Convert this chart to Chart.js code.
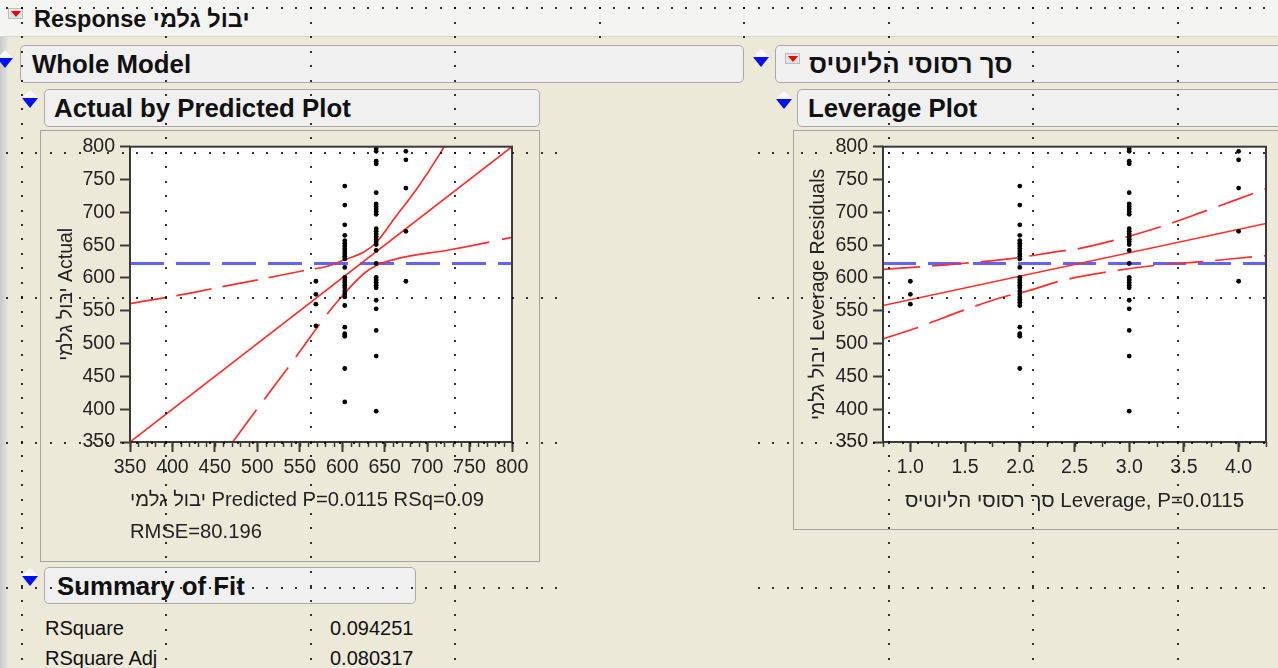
<!DOCTYPE html>
<html>
<head>
<meta charset="utf-8">
<script src="https://cdn.jsdelivr.net/npm/chart.js@4.4.0/dist/chart.umd.min.js"></script>
<style>
body{margin:0;width:1278px;height:668px;overflow:hidden;background:#ECE9D8;font-family:"Liberation Sans",Arial,sans-serif;position:relative;color:#111}
.abs{position:absolute}
.topbar{left:0;top:0;width:1278px;height:36px;background:#F4F4F2;border-bottom:1px solid #D6D6D0}
.side{left:0;top:37px;width:8px;height:631px;background:linear-gradient(to right,#C8C8C8,#E4E4E4)}
.hdr{height:38px;background:#F0F0F0;border:1px solid #A9A9A9;border-radius:5px;box-sizing:border-box;font-weight:bold;font-size:25.8px;line-height:36px;white-space:nowrap;overflow:hidden}
.panel{border:1px solid #A3A3A3;box-sizing:border-box}
.disc{width:0;height:0;border-left:8px solid transparent;border-right:8px solid transparent;border-top:10px solid #0010F0}
.disc:before{content:'';position:absolute;left:-8px;top:-18px;border-left:8px solid transparent;border-right:8px solid transparent;border-bottom:8px solid #F8F8F8}
.redbox{width:15px;height:11px;background:#E2E2E2;border:1px solid #BDBDBD;box-sizing:border-box}
.redbox:after{content:'';position:absolute;left:2px;top:2px;border-left:5px solid transparent;border-right:5px solid transparent;border-top:6px solid #F00000}
.txt{font-size:20px;white-space:nowrap}
canvas{position:absolute}
</style>
</head>
<body>

<div class="abs topbar"></div>
<div class="abs redbox" style="left:8px;top:8px"></div>
<div class="abs" style="left:34px;top:4px;font-weight:bold;font-size:23.5px;line-height:30px;white-space:nowrap">Response יבול גלמי</div>
<div class="abs side"></div>

<div class="abs hdr" style="left:20px;top:45px;width:724px;padding-left:11px">Whole Model</div>
<div class="abs disc" style="left:-3px;top:58px"></div>
<div class="abs hdr" style="left:44px;top:89px;width:496px;padding-left:9px">Actual by Predicted Plot</div>
<div class="abs disc" style="left:22px;top:98px"></div>

<div class="abs hdr" style="left:775px;top:45px;width:530px;padding-left:33px">סך רסוסי הליוטיס</div>
<div class="abs disc" style="left:753px;top:57px"></div>
<div class="abs redbox" style="left:785px;top:53px"></div>
<div class="abs hdr" style="left:797px;top:89px;width:520px;padding-left:10px">Leverage Plot</div>
<div class="abs disc" style="left:776px;top:99px"></div>

<div class="abs panel" style="left:40px;top:130px;width:500px;height:432px"></div>
<div class="abs panel" style="left:793px;top:130px;width:500px;height:400px"></div>

<canvas id="apChart" width="500" height="432" style="left:40px;top:130px"></canvas>
<canvas id="levChart" width="485" height="400" style="left:793px;top:130px"></canvas>

<div class="abs hdr" style="left:44px;top:567px;width:372px;height:37px;padding-left:12px">Summary of Fit</div>
<div class="abs disc" style="left:22px;top:576px"></div>
<div class="abs txt" style="left:45px;top:617px">RSquare</div>
<div class="abs txt" style="left:330px;top:617px">0.094251</div>
<div class="abs txt" style="left:45px;top:647px">RSquare Adj</div>
<div class="abs txt" style="left:330px;top:647px">0.080317</div>

<canvas id="dots" width="1278" height="668" style="left:0;top:0;pointer-events:none"></canvas>

<script>
// Actual by Predicted: predicted value of each group, actual values read per group
const apPredicted = [569, 603, 640, 675];
const apActual = [
    [595, 575, 560, 527],
    [740, 711, 681, 665, 657, 653, 649, 645, 641, 637, 633, 629, 616, 601, 597, 593, 589, 585, 580, 576, 571, 558, 525, 515, 513, 511, 462, 411],
    [797, 793, 778, 774, 730, 713, 709, 705, 701, 697, 675, 671, 667, 663, 659, 655, 651, 642, 622, 601, 597, 593, 589, 585, 566, 553, 520, 481, 397],
    [793, 780, 737, 671, 595]
];
const apFitX = [350, 800];
const apFitY = [350, 800];
const apUpperX = [350, 405, 456, 504, 554, 586, 601, 625, 640, 664, 688, 715, 724];
const apUpperY = [561, 573, 586, 598, 611, 619, 627, 639, 654, 695, 736, 789, 809];
const apLowerX = [471, 499, 540, 586, 601, 625, 640, 664, 727, 782, 800];
const apLowerY = [350, 399, 470, 551, 574, 606, 619, 629, 643, 657, 662];
const meanY = 622;

// Leverage plot
const levX = [1, 2, 3, 4];
const levResid = [
    [595, 575, 560],
    [740, 711, 681, 665, 657, 653, 649, 645, 641, 637, 633, 629, 616, 601, 597, 593, 589, 585, 580, 576, 571, 567, 563, 558, 525, 515, 513, 511, 462],
    [797, 793, 778, 774, 730, 713, 709, 705, 701, 697, 675, 671, 667, 663, 659, 655, 651, 642, 622, 601, 597, 593, 589, 585, 566, 553, 520, 481, 397],
    [793, 780, 737, 671, 595]
];
const levFitX = [0.75, 4.25];
const levFitY = [558, 683];
const levUpperX = [0.75, 1.33, 1.9, 2.34, 2.55, 3.23, 3.68, 4.12, 4.25];
const levUpperY = [613, 620, 629, 640, 645, 675, 701, 728, 736];
const levLowerX = [0.75, 1.06, 1.49, 1.85, 2.09, 2.34, 2.55, 3.23, 3.68, 4.12, 4.25];
const levLowerY = [507, 524, 551, 571, 581, 594, 602, 619, 625, 632, 634];

const apXTickVals = [350, 400, 450, 500, 550, 600, 650, 700, 750, 800];
const apXTickLabels = ['350','400','450','500','550','600','650','700','750','800'];
const levXTickVals = [1, 1.5, 2, 2.5, 3, 3.5, 4];
const levXTickLabels = ['1.0','1.5','2.0','2.5','3.0','3.5','4.0'];
const yTickVals = [350, 400, 450, 500, 550, 600, 650, 700, 750, 800];

const RED = '#FF2E2E';
const BLUE = 'rgba(70,70,255,0.85)';
const AXIS = '#3A3A3A';
const FONT = '"Liberation Sans", Arial, sans-serif';

function pts(xs, ys){
    return xs.map(function(x, i){ return {x: x, y: ys[i]}; });
}
function groupPts(xs, groups){
    let out = [];
    groups.forEach(function(g, i){
        g.forEach(function(v){ out.push({x: xs[i], y: v}); });
    });
    return out;
}

let plotFrame = {
    id: 'plotFrame',
    beforeDraw: function(chart){
        const a = chart.chartArea, ctx = chart.ctx;
        ctx.save();
        ctx.fillStyle = '#FFFFFF';
        ctx.fillRect(a.left, a.top, a.right - a.left, a.bottom - a.top);
        ctx.restore();
    },
    afterDraw: function(chart, args, opts){
        const a = chart.chartArea, ctx = chart.ctx, sx = chart.scales.x;
        ctx.save();
        ctx.strokeStyle = AXIS;
        ctx.lineWidth = 2;
        ctx.strokeRect(a.left, a.top, a.right - a.left, a.bottom - a.top);
        // minor ticks under x axis
        ctx.lineWidth = 1.5;
        ctx.beginPath();
        for (let v = opts.min; v <= opts.max + 1e-9; v += opts.step) {
            const px = Math.round(sx.getPixelForValue(v)) + 0.5;
            ctx.moveTo(px, a.bottom);
            ctx.lineTo(px, a.bottom + 5);
        }
        ctx.stroke();
        ctx.restore();
    }
};

function scatterSet(data){
    return {data: data, showLine: false, pointRadius: 2.4, pointHoverRadius: 2.4,
        pointBackgroundColor: '#000', pointBorderWidth: 0, pointStyle: 'circle'};
}
function lineSet(data, color, width, dash, segDash){
    let s = {data: data, showLine: true, pointRadius: 0, borderColor: color,
        borderWidth: width, borderDash: dash, cubicInterpolationMode: 'monotone', fill: false};
    if (segDash) s.segment = {borderDash: segDash};
    return s;
}

function makeChart(el, cfg){
    const tickFont = {family: FONT, size: 19.5};
    return new Chart(el, {
        type: 'scatter',
        data: {datasets: cfg.datasets},
        plugins: [plotFrame],
        options: {
            responsive: false,
            animation: false,
            devicePixelRatio: 1,
            layout: {padding: {left: 0, top: 16, right: cfg.padRight, bottom: 0}},
            plugins: {
                legend: {display: false},
                tooltip: {enabled: false},
                plotFrame: cfg.minor
            },
            scales: {
                x: {
                    type: 'linear', min: cfg.xMin, max: cfg.xMax,
                    afterFit: function(s){ s.height = cfg.xHeight; },
                    afterBuildTicks: function(s){ s.ticks = cfg.xTicks.map(function(v){ return {value: v}; }); },
                    border: {display: false},
                    grid: {drawOnChartArea: false, drawTicks: true, tickLength: 10, tickColor: AXIS, tickWidth: 2},
                    ticks: {autoSkip: false, maxRotation: 0, color: '#222', font: tickFont, padding: 4,
                        callback: function(v){ return cfg.xLabels[cfg.xTicks.indexOf(v)]; }},
                    title: cfg.xTitle
                },
                y: {
                    type: 'linear', min: 350, max: 800,
                    afterFit: function(s){ s.width = 90; },
                    afterBuildTicks: function(s){ s.ticks = yTickVals.map(function(v){ return {value: v}; }); },
                    border: {display: false},
                    grid: {drawOnChartArea: false, drawTicks: true, tickLength: 10, tickColor: AXIS, tickWidth: 2},
                    ticks: {autoSkip: false, color: '#222', font: tickFont, padding: 5},
                    title: cfg.yTitle
                }
            }
        }
    });
}

function dashOutside(lo, hi, dash){
    return function(ctx){
        return (ctx.p0.parsed.x >= lo && ctx.p1.parsed.x <= hi) ? [] : dash;
    };
}

makeChart(document.getElementById('apChart'), {
    datasets: [
        scatterSet(groupPts(apPredicted, apActual)),
        lineSet(pts(apFitX, apFitY), RED, 1.7, []),
        lineSet(pts(apUpperX, apUpperY), RED, 1.7, [36, 11], dashOutside(586, 800, [36, 11])),
        lineSet(pts(apLowerX, apLowerY), RED, 1.7, [40, 13], dashOutside(586, 727, [40, 13])),
        lineSet(pts([350, 800], [meanY, meanY]), BLUE, 3, [34, 12])
    ],
    padRight: 28, xHeight: 120, xMin: 350, xMax: 800,
    xTicks: apXTickVals, xLabels: apXTickLabels,
    minor: {min: 350, max: 800, step: 10},
    xTitle: {display: true, align: 'start', color: '#222',
        text: ['יבול גלמי Predicted P=0.0115 RSq=0.09', 'RMSE=80.196'],
        font: {family: FONT, size: 20.2, lineHeight: '32px'}, padding: {top: 0, bottom: 14}},
    yTitle: {display: true, color: '#222', text: 'יבול גלמי Actual',
        font: {family: FONT, size: 19.5, lineHeight: '24px'}, padding: {top: 15, bottom: 0}}
});

makeChart(document.getElementById('levChart'), {
    datasets: [
        scatterSet(groupPts(levX, levResid)),
        lineSet(pts(levFitX, levFitY), RED, 1.7, []),
        lineSet(pts(levUpperX, levUpperY), RED, 1.7, [37, 12]),
        lineSet(pts(levLowerX, levLowerY), RED, 1.7, [37, 12]),
        lineSet(pts([0.75, 4.25], [meanY, meanY]), BLUE, 3, [33, 12])
    ],
    padRight: 12, xHeight: 88, xMin: 0.75, xMax: 4.25,
    xTicks: levXTickVals, xLabels: levXTickLabels,
    minor: {min: 0.75, max: 4.25, step: 0.25},
    xTitle: {display: true, align: 'center', color: '#222',
        text: 'סך רסוסי הליוטיס Leverage, P=0.0115',
        font: {family: FONT, size: 20.5, lineHeight: '24px'}, padding: {top: 0, bottom: 17}},
    yTitle: {display: true, color: '#222', text: 'יבול גלמי Leverage Residuals',
        font: {family: FONT, size: 19.5, lineHeight: '24px'}, padding: {top: 13.5, bottom: 0}}
});

// dotted layout grid of the report window (not drawn in the gap between the two columns)
(function(){
    const c = document.getElementById('dots').getContext('2d');
    c.fillStyle = 'rgba(0,0,0,0.8)';
    const colStep = 144.5, rowStep = 145, dot = 14.45;
    function inGap(x, y){ return y > 38 && x > 562 && x < 748; }
    for (let y0 = 7.3; y0 < 668; y0 += rowStep) {
        for (let x = 20.7 - colStep; x < 1278; x += dot) {
            if (x >= 0 && !inGap(x, y0)) c.fillRect(Math.round(x), Math.round(y0), 2, 2);
        }
    }
    for (let x0 = 20.7; x0 < 1278; x0 += colStep) {
        for (let y = 7.3; y < 668; y += dot) {
            if (!inGap(x0, y)) c.fillRect(Math.round(x0), Math.round(y), 2, 2);
        }
    }
})();
</script>
</body>
</html>
